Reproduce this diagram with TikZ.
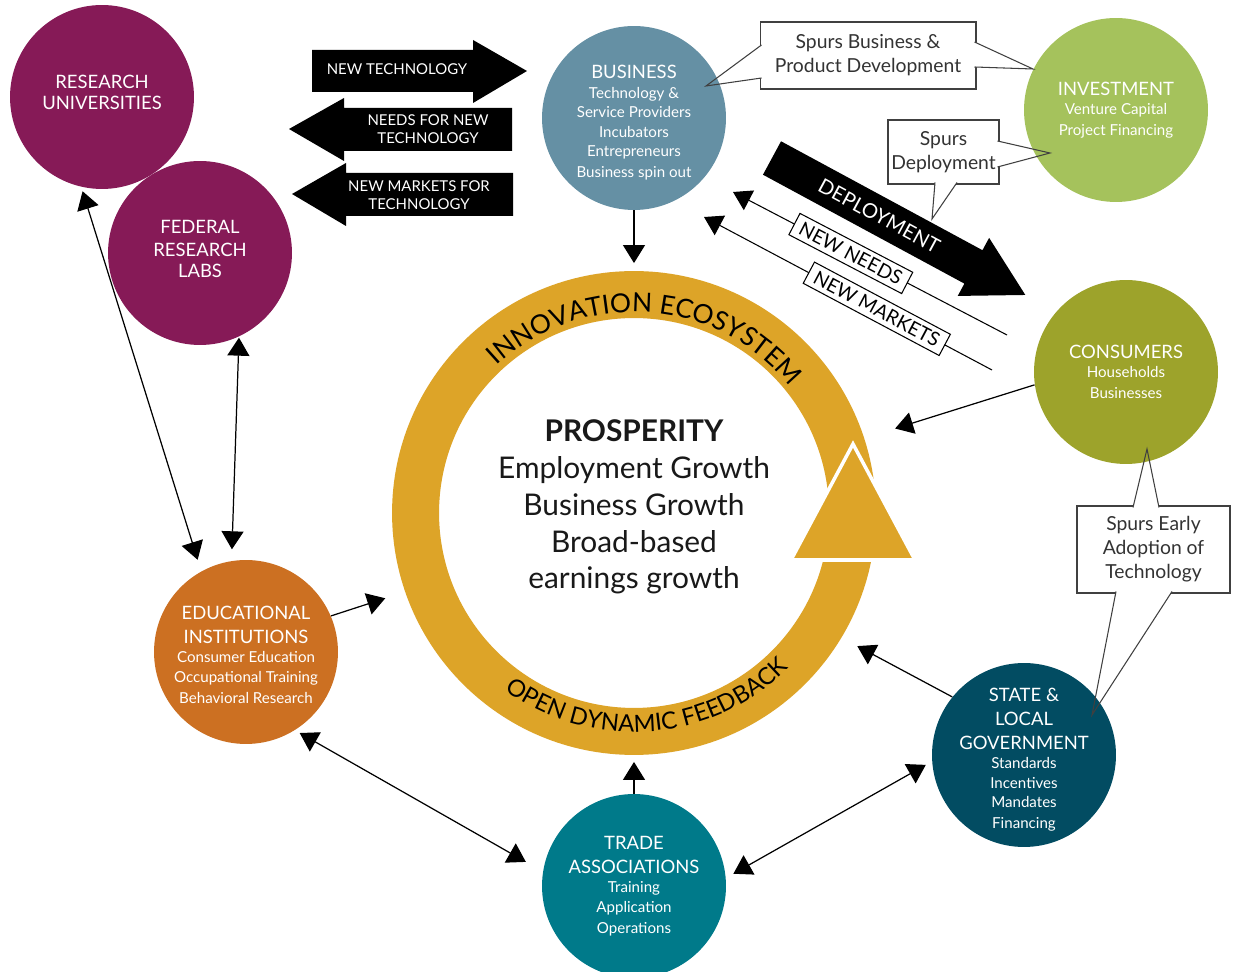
\documentclass[tikz,border=0pt]{standalone}
\usepackage{fontspec}
\setmainfont{Lato}
\usepackage{tikz}
\usetikzlibrary{
  arrows.meta,
  calc,
  decorations,
  decorations.text
}
\definecolor{cuni}{HTML}{861A57}
\definecolor{cbus}{HTML}{6590A4}
\definecolor{cinv}{HTML}{A5C25C}
\definecolor{ccon}{HTML}{9DA32B}
\definecolor{cedu}{HTML}{CC7022}
\definecolor{ctra}{HTML}{007A8A}
\definecolor{cgov}{HTML}{024C62}
\definecolor{cring}{HTML}{DDA428}
\newcommand{\hubtitle}{\fontsize{10.5}{13.4}\selectfont}
\newcommand{\hubsub}{\fontsize{8.6}{11.1}\selectfont}

\begin{document}
\begin{tikzpicture}[
          x=0.02cm,y=-0.02cm,
          hub/.style={
              circle,
              fill=#1,
              minimum size=3.68cm,
              inner sep=0pt
            },hubtext/.style={
              text=white,
              align=flush center,
              text width=3.4cm,
              inner sep=0pt
            },flow/.style={
              -{Triangle[length=0.36cm,width=0.44cm]},
              line width=0.7pt
            },flowboth/.style={
              {Triangle[length=0.36cm,width=0.44cm]}-{Triangle[length=0.36cm,width=0.44cm]},
              line width=0.7pt
            },spurs/.style={
              draw=black!75,
              line width=0.6pt,
              fill=white,
              text=black!80,
              align=center,
              inner sep=0pt,
              font=\fontsize{11}{13.7}\selectfont
            },spurline/.style={
              draw=black!75,
              line width=0.6pt
            },blocktext/.style={
              text=white,
              align=center,
              font=\fontsize{8.5}{10.2}\selectfont
            },streamtag/.style={
              draw,
              fill=white,
              line width=0.6pt,
              sloped,
              inner xsep=4pt,
              inner ysep=2pt,
              minimum height=0.48cm,
              font=\fontsize{11}{12}\selectfont
            }
        ]
        \path[use as bounding box,fill=white] (0,0) rectangle (1235,972);

        % 吹き出しの枠
        \node[spurs,minimum width=4.32cm,minimum height=1.34cm] (spbus) at (868,55.5) {Spurs Business \&\\Product Development};
        \node[spurs,minimum width=2.22cm,minimum height=1.28cm] (spdep) at (943.5,152) {Spurs\\Deployment};
        \node[spurs,minimum width=3.06cm,minimum height=1.74cm] (spadopt) at (1153.5,549.5) {Spurs Early\\Adoption of\\Technology};

        % 吹き出しの指し口
        \def\pbusl{(761.5,45) -- (706,86) -- (761.5,78)}
        \def\pbusr{(974.5,42) -- (1033,69) -- (974.5,67)}
        \def\pdepr{(997.5,141) -- (1050,153) -- (997.5,167)}
        \def\pdepb{(935,182.5) -- (932,219) -- (957,182.5)}
        \def\padt{(1133,507.5) -- (1147,449) -- (1159,507.5)}
        \def\padb{(1116,591.5) -- (1092,715) -- (1172,591.5)}
        \fill[white] \pbusl;
        \fill[white] \pbusr;
        \fill[white] \pdepr;
        \fill[white] \pdepb;
        \fill[white] \padt;
        \fill[white] \padb;

        % 各主体の円
        \node[hub=cuni] (ru) at (102,97) {};
        \node[hub=cuni] (fed) at (200,253) {};
        \node[hub=cbus] (bus) at (634,118) {};
        \node[hub=cinv] (inv) at (1116,110) {};
        \node[hub=ccon] (cons) at (1126,372) {};
        \node[hub=cedu] (edu) at (246,652) {};
        \node[hub=ctra] (trade) at (634,886) {};
        \node[hub=cgov] (gov) at (1024,755) {};

        \node[hubtext,yshift=0.1cm] (rutext) at (ru) {\hubtitle RESEARCH\\UNIVERSITIES};
        \node[hubtext,yshift=0.08cm] (fedtext) at (fed) {\hubtitle FEDERAL\\RESEARCH\\LABS};
        \node[hubtext,yshift=-0.1cm] (bustext) at (bus) {\hubtitle BUSINESS\par\hubsub Technology \&\\Service Providers\\Incubators\\Entrepreneurs\\Business spin out};
        \node[hubtext] (invtext) at (inv) {\hubtitle INVESTMENT\par\hubsub Venture Capital\\Project Financing};
        \node[hubtext] (constext) at (cons) {\hubtitle CONSUMERS\par\hubsub Households\\Businesses};
        \node[hubtext,yshift=-0.06cm] (edutext) at (edu) {\hubtitle EDUCATIONAL\\INSTITUTIONS\par\hubsub Consumer Education\\Occupational Training\\Behavioral Research};
        \node[hubtext] (tradetext) at (trade) {\hubtitle TRADE\\ASSOCIATIONS\par\hubsub Training\\Application\\Operations};
        \node[hubtext,yshift=-0.1cm] (govtext) at (gov) {\hubtitle STATE \&\\LOCAL\\GOVERNMENT\par\hubsub Standards\\Incentives\\Mandates\\Financing};

        % 指し口の線は円の上に
        \draw[spurline] \pbusl;
        \draw[spurline] \pbusr;
        \draw[spurline] \pdepr;
        \draw[spurline] \pdepb;
        \draw[spurline] \padt;
        \draw[spurline] \padb;

        % イノベーション・エコシステムの輪
        \node[circle,draw=cring,line width=0.94cm,minimum size=8.74cm,inner sep=0pt] (ring) at (634,513) {};
        \fill[cring,draw=white,line width=2pt] (853,444) -- (915,560) -- (791,560) -- cycle;
        \path[
          decorate,
          decoration={
              text along path,
              text align=center,
              text={|\fontsize{15}{15}\selectfont|INNOVATION ECOSYSTEM}
            }
        ] ($(ring.center)+(-146:201)$) arc[start angle=-146,end angle=-26,radius=201];
        \path[
          decorate,
          decoration={
              text along path,
              text align=center,
              text={|\fontsize{13.5}{13.5}\selectfont|OPEN DYNAMIC FEEDBACK}
            }
        ] ($(ring.center)+(-214.5:219)$) arc[start angle=-214.5,end angle=-334.5,radius=219];
        \node[align=center,text=black!90,font=\fontsize{17}{21}\selectfont] (prosp) at (634,507)
          {{\bfseries PROSPERITY}\\Employment Growth\\Business Growth\\Broad-based\\earnings growth};

        % 上部の黒い矢印
        \fill (312,50) -- (473,50) -- (473,40) -- (527,71) -- (473,103) -- (473,92) -- (312,92) -- cycle;
        \node[blocktext] (newtech) at (397,69) {NEW TECHNOLOGY};
        \fill (512,108) -- (344,108) -- (344,98) -- (289,129) -- (344,161) -- (344,151) -- (512,151) -- cycle;
        \node[blocktext] (needs) at (428,129) {NEEDS FOR NEW\\TECHNOLOGY};
        \fill (513,173) -- (346,173) -- (346,163) -- (292,194) -- (346,226) -- (346,216) -- (513,216) -- cycle;
        \node[blocktext] (markets) at (419,195) {NEW MARKETS FOR\\TECHNOLOGY};

        % DEPLOYMENT の矢印
        \begin{scope}[shift={(772,158)},rotate=-28.4]
          \fill (0,-19) -- (229,-19) -- (229,-33) -- (288,0) -- (229,33) -- (229,19) -- (0,19) -- cycle;
          \node[text=white,font=\fontsize{11.5}{11.5}\selectfont,rotate=-28.4] (deploy) at (122,0) {DEPLOYMENT};
        \end{scope}

        % NEW NEEDS / NEW MARKETS の細い矢印
        \coordinate (needsfrom) at (1007,335);
        \coordinate (needsto) at (733,192);
        \coordinate (marketsfrom) at (992,370);
        \coordinate (marketsto) at (704,217);
        \draw[flow,line width=0.6pt] (needsfrom) -- node[streamtag,pos=.57] (newneeds) {NEW NEEDS} (needsto);
        \draw[flow,line width=0.6pt] (marketsfrom) -- node[streamtag,pos=.40] (newmarkets) {NEW MARKETS} (marketsto);

        % 輪へ向かう矢印
        \draw[flow,shorten >=0.16cm] (bus.270) -- (ring.90);
        \draw[flow,shorten >=0.65cm] (cons.188) -- (ring.18);
        \draw[flow,shorten >=0.36cm] (gov.141) -- (ring.329);
        \draw[flow,shorten >=0.14cm] (trade.90) -- (ring.270);
        \draw[flow,shorten >=0.42cm] (edu.23) -- (ring.199);

        % 主体どうしの双方向の矢印
        \draw[flowboth,shorten <=0.09cm,shorten >=0.24cm] (ru.257) -- (edu.119);
        \draw[flowboth,shorten <=0.02cm,shorten >=0.23cm] (fed.295) -- (edu.99);
        \draw[flowboth,shorten <=0.11cm,shorten >=0.39cm] (edu.302) -- (trade.171);
        \draw[flowboth,shorten <=0.17cm,shorten >=0.14cm] (trade.5) -- (gov.184);

      \end{tikzpicture}
\end{document}
